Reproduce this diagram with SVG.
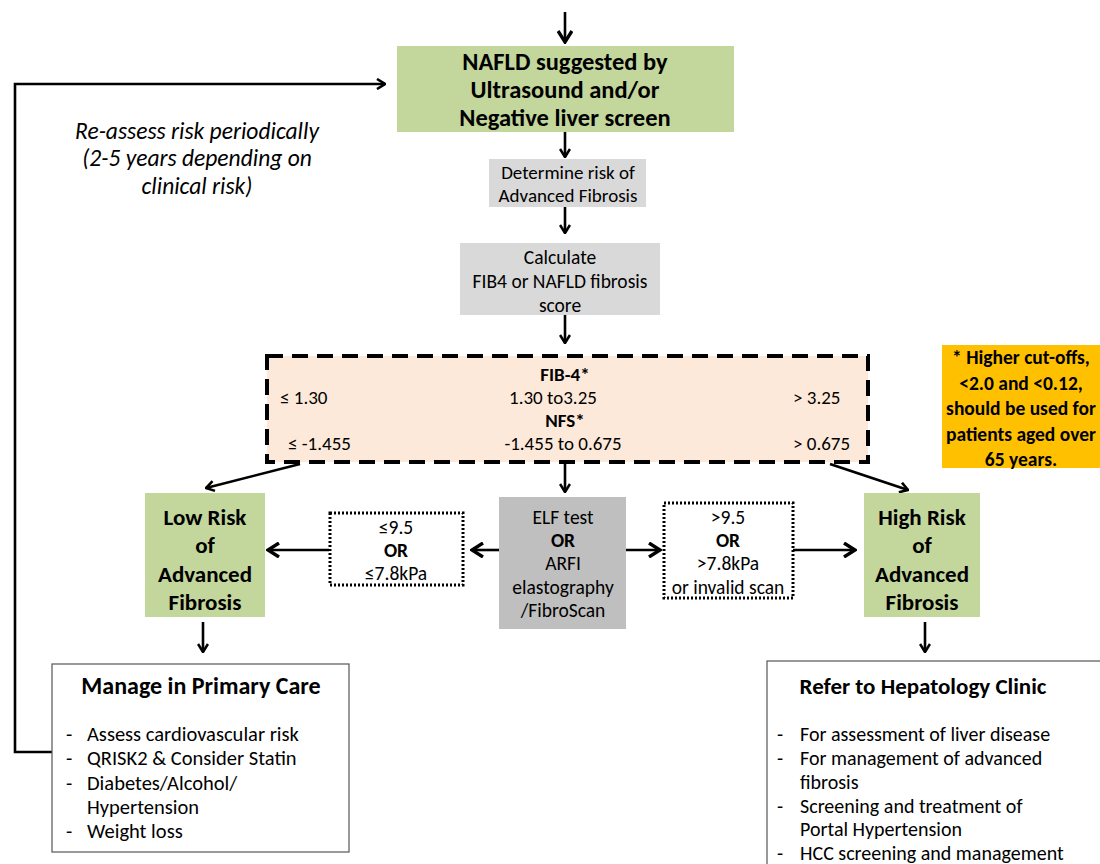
<svg xmlns="http://www.w3.org/2000/svg" width="1100" height="864" viewBox="0 0 1100 864">
<defs>
<marker id="ah" viewBox="0 0 10 12" refX="9" refY="6" markerWidth="10" markerHeight="12" markerUnits="userSpaceOnUse" orient="auto">
<path d="M1,1 L9,6 L1,11" fill="none" stroke="#000" stroke-width="2.6"/>
</marker>
<marker id="ahb" viewBox="0 0 14 16" refX="12" refY="8" markerWidth="14" markerHeight="16" markerUnits="userSpaceOnUse" orient="auto">
<path d="M1,1 L12,8 L1,15" fill="none" stroke="#000" stroke-width="3.4"/>
</marker>
</defs>
<style>
text{font-family:"Carlito","Liberation Sans Narrow","Liberation Sans",sans-serif;fill:#000}
.c{text-anchor:middle}
.b{font-weight:bold}
.green{fill:#c3d69b}
.gray{fill:#d9d9d9}
.gray2{fill:#bfbfbf}
.conn{stroke:#000;stroke-width:2.6;fill:none}
.dot{fill:#fff;stroke:#000;stroke-width:3;stroke-dasharray:2 2}
</style>
<rect width="1100" height="864" fill="#fff"/>
<g id="connectors">
<line class="conn" x1="565" y1="12" x2="565" y2="42" marker-end="url(#ahb)" stroke-width="3.4"/>
<line class="conn" x1="565" y1="132" x2="565" y2="157" marker-end="url(#ah)"/>
<line class="conn" x1="565" y1="207" x2="565" y2="233" marker-end="url(#ah)"/>
<line class="conn" x1="565" y1="315" x2="565" y2="343" marker-end="url(#ah)"/>
<line class="conn" x1="300" y1="464" x2="206" y2="488" marker-end="url(#ah)" stroke-width="3"/>
<line class="conn" x1="565" y1="464" x2="565" y2="492" marker-end="url(#ah)"/>
<line class="conn" x1="830" y1="464" x2="908" y2="490" marker-end="url(#ah)" stroke-width="3"/>
<line class="conn" x1="329" y1="550" x2="268" y2="550" marker-end="url(#ahb)" stroke-width="3.4"/>
<line class="conn" x1="499" y1="550" x2="472" y2="550" marker-end="url(#ahb)" stroke-width="3.4"/>
<line class="conn" x1="626" y1="550" x2="660" y2="550" marker-end="url(#ahb)" stroke-width="3.4"/>
<line class="conn" x1="793" y1="550" x2="855" y2="550" marker-end="url(#ahb)" stroke-width="3.4"/>
<line class="conn" x1="203" y1="622" x2="203" y2="652" marker-end="url(#ah)"/>
<line class="conn" x1="925" y1="622" x2="925" y2="652" marker-end="url(#ah)"/>
<polyline class="conn" points="52,752 15,752 15,84 385,84" marker-end="url(#ah)"/>
</g>
<g id="nafld" font-size="24.5">
<rect class="green" x="397" y="46" width="337" height="86"/>
<text class="c b" x="565" y="70">NAFLD suggested by</text>
<text class="c b" x="565" y="98">Ultrasound and/or</text>
<text class="c b" x="565" y="126">Negative liver screen</text>
</g>
<g id="reassess" font-size="23.5" font-style="italic">
<text class="c" x="197" y="139">Re-assess risk periodically</text>
<text class="c" x="197" y="166">(2-5 years depending on</text>
<text class="c" x="197" y="194">clinical risk)</text>
</g>
<g id="determine" font-size="19">
<rect class="gray" x="489" y="159" width="157" height="48"/>
<text class="c" x="568" y="179">Determine risk of</text>
<text class="c" x="568" y="202">Advanced Fibrosis</text>
</g>
<g id="calculate" font-size="19.5">
<rect class="gray" x="460" y="243" width="200" height="72"/>
<text class="c" x="560" y="264">Calculate</text>
<text class="c" x="560" y="288">FIB4 or NAFLD fibrosis</text>
<text class="c" x="560" y="312">score</text>
</g>
<g id="scores" font-size="19">
<rect x="267" y="356" width="601" height="106" fill="#fde9d9" stroke="#000" stroke-width="4" stroke-dasharray="16 9"/>
<text class="c b" x="565" y="381">FIB-4*</text>
<text x="280" y="404">≤ 1.30</text>
<text class="c" x="553" y="404">1.30 to3.25</text>
<text x="793" y="404">&gt; 3.25</text>
<text class="c b" x="565" y="427">NFS*</text>
<text x="288" y="450">≤ -1.455</text>
<text class="c" x="563" y="450">-1.455 to 0.675</text>
<text x="793" y="450">&gt; 0.675</text>
</g>
<g id="note" font-size="19.5">
<rect x="942" y="345" width="158" height="123" fill="#ffc000"/>
<text class="c b" x="1021" y="364">*  Higher cut-offs,</text>
<text class="c b" x="1021" y="390">&lt;2.0 and &lt;0.12,</text>
<text class="c b" x="1021" y="415">should be used for</text>
<text class="c b" x="1021" y="441">patients aged over</text>
<text class="c b" x="1021" y="466">65 years.</text>
</g>
<g id="lowrisk" font-size="23">
<rect class="green" x="145" y="493" width="120" height="124"/>
<text class="c b" x="205" y="525">Low Risk</text>
<text class="c b" x="205" y="553">of</text>
<text class="c b" x="205" y="582">Advanced</text>
<text class="c b" x="205" y="610">Fibrosis</text>
</g>
<g id="highrisk" font-size="23">
<rect class="green" x="864" y="493" width="116" height="124"/>
<text class="c b" x="922" y="525">High Risk</text>
<text class="c b" x="922" y="553">of</text>
<text class="c b" x="922" y="582">Advanced</text>
<text class="c b" x="922" y="610">Fibrosis</text>
</g>
<g id="elf" font-size="19.5">
<rect class="gray2" x="499" y="497" width="127" height="132"/>
<text class="c" x="563" y="524">ELF test</text>
<text class="c b" x="563" y="547">OR</text>
<text class="c" x="563" y="570">ARFI</text>
<text class="c" x="563" y="594">elastography</text>
<text class="c" x="563" y="617">/FibroScan</text>
</g>
<g id="low-cut" font-size="19.5">
<rect class="dot" x="330" y="513" width="133" height="72"/>
<text class="c" x="396" y="534">≤9.5</text>
<text class="c b" x="396" y="557">OR</text>
<text class="c" x="396" y="580">≤7.8kPa</text>
</g>
<g id="high-cut" font-size="19.5">
<rect class="dot" x="664" y="503" width="129" height="95"/>
<text class="c" x="728" y="524">&gt;9.5</text>
<text class="c b" x="728" y="547">OR</text>
<text class="c" x="728" y="570">&gt;7.8kPa</text>
<text class="c" x="728" y="594">or invalid scan</text>
</g>
<g id="primary">
<rect x="52" y="664" width="297" height="188" fill="#fff" stroke="#555" stroke-width="1.2"/>
<text class="c b" font-size="24" x="201" y="694">Manage in Primary Care</text>
<g font-size="20.5">
<text x="66" y="741">-</text><text x="87" y="741">Assess cardiovascular risk</text>
<text x="66" y="765">-</text><text x="87" y="765">QRISK2 &amp; Consider Statin</text>
<text x="66" y="790">-</text><text x="87" y="790">Diabetes/Alcohol/</text>
<text x="87" y="814">Hypertension</text>
<text x="66" y="838">-</text><text x="87" y="838">Weight loss</text>
</g>
</g>
<g id="hepatology">
<rect x="767" y="661" width="340" height="210" fill="#fff" stroke="#555" stroke-width="1.2"/>
<text class="c b" font-size="23" x="923" y="694">Refer to Hepatology Clinic</text>
<g font-size="20">
<text x="777" y="741">-</text><text x="800" y="741">For assessment of liver disease</text>
<text x="777" y="765">-</text><text x="800" y="765">For management of advanced</text>
<text x="800" y="789">fibrosis</text>
<text x="777" y="813">-</text><text x="800" y="813">Screening and treatment of</text>
<text x="800" y="836">Portal Hypertension</text>
<text x="777" y="860">-</text><text x="800" y="860">HCC screening and management</text>
</g>
</g>
</svg>
